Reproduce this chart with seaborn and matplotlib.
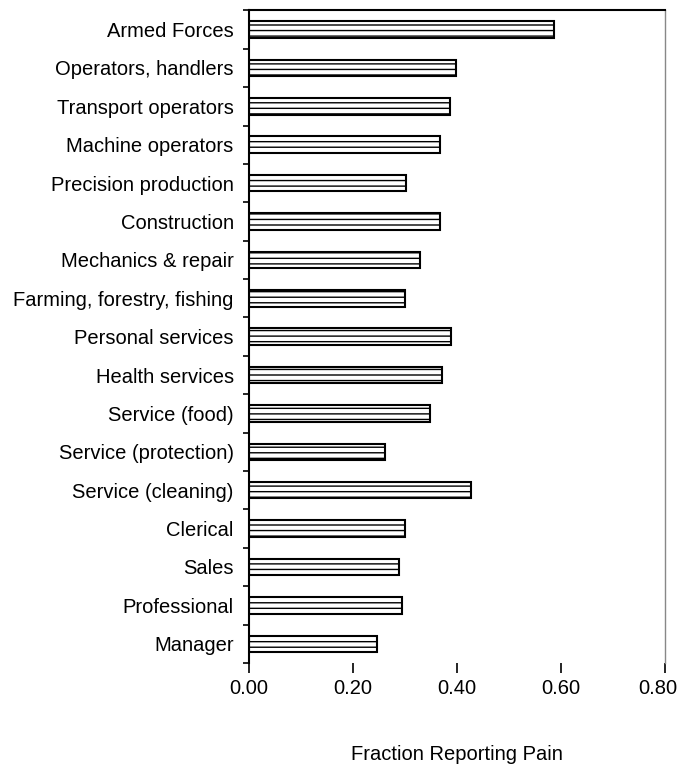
import matplotlib
matplotlib.use('Agg')
import matplotlib.pyplot as plt
import matplotlib.transforms as mtransforms
import seaborn as sns
import pandas as pd
import numpy as np

occupations = ['Armed Forces', 'Operators, handlers', 'Transport operators',
               'Machine operators', 'Precision production', 'Construction',
               'Mechanics & repair', 'Farming, forestry, fishing',
               'Personal services', 'Health services', 'Service (food)',
               'Service (protection)', 'Service (cleaning)', 'Clerical',
               'Sales', 'Professional', 'Manager']
fraction_pain = [0.587, 0.398, 0.387, 0.367, 0.303, 0.367, 0.330, 0.301,
                 0.388, 0.372, 0.349, 0.262, 0.428, 0.301, 0.289, 0.294, 0.246]
xticks = [0.0, 0.2, 0.4, 0.6, 0.8]

df = pd.DataFrame({'Occupation': occupations, 'Fraction': fraction_pain})

sns.set_style('white')
plt.rcParams['font.family'] = ['Liberation Sans', 'DejaVu Sans']
plt.rcParams['hatch.linewidth'] = 1.0
plt.rcParams['hatch.color'] = 'black'
plt.rcParams['text.color'] = 'black'
plt.rcParams['xtick.color'] = 'black'
plt.rcParams['ytick.color'] = 'black'
plt.rcParams['axes.labelcolor'] = 'black'

fig = plt.figure(figsize=(6.79, 7.66), dpi=100)
ax = fig.add_axes([0.3667, 0.1345, 0.6123, 0.852])

sns.barplot(data=df, x='Fraction', y='Occupation', orient='h', color='white',
            edgecolor='black', linewidth=1.5, width=0.43, ax=ax)
for p in ax.patches:
    p.set_hatch('---')

ax.set_xlim(0, 0.8)
ax.set_ylim(len(occupations) - 0.5, -0.5)
ax.set_xticks(xticks)
ax.set_xticklabels([f'{v:.2f}' for v in xticks], fontsize=14.5)
ax.set_yticks(range(len(occupations)))
ax.set_yticklabels(occupations, fontsize=14.5)
ax.set_yticks(np.arange(-0.5, len(occupations)), minor=True)

ax.tick_params(axis='y', which='major', length=0, pad=11)
ax.tick_params(axis='y', which='minor', left=True, length=4, width=1.2, direction='out')
ax.tick_params(axis='x', which='major', bottom=True, length=7.5, width=1.2, direction='out', pad=4)

# keep the last tick label inside the figure, as in the original
last = ax.get_xticklabels()[-1]
last.set_transform(last.get_transform() + mtransforms.ScaledTranslation(-5 / 72, 0, fig.dpi_scale_trans))

ax.set_xlabel('Fraction Reporting Pain', fontsize=14.5, labelpad=34)
ax.set_ylabel('')

ax.spines['left'].set_color('black')
ax.spines['left'].set_linewidth(1.5)
ax.spines['top'].set_color('black')
ax.spines['top'].set_linewidth(1.5)
ax.spines['right'].set_color('#888888')
ax.spines['right'].set_linewidth(1.0)
ax.spines['bottom'].set_visible(False)

fig.savefig('out.png', dpi=100)
